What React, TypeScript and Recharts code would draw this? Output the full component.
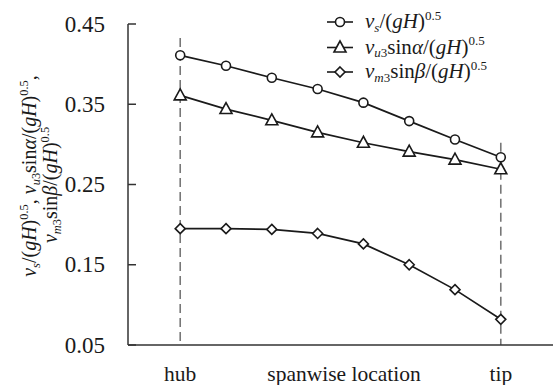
import React from "react";
import { LineChart, Line, XAxis, YAxis, ReferenceLine } from "recharts";

// spanwise stations, hub (0) to tip (7)
const stations = [0, 1, 2, 3, 4, 5, 6, 7];
const vsRatio = [0.411, 0.398, 0.383, 0.369, 0.352, 0.329, 0.306, 0.284];
const vuRatio = [0.361, 0.344, 0.330, 0.315, 0.302, 0.291, 0.281, 0.269];
const vmRatio = [0.195, 0.195, 0.194, 0.189, 0.176, 0.150, 0.119, 0.082];

const yTicks = [0.05, 0.15, 0.25, 0.35, 0.45];
const xTicks = [0, 7];
const xTickLabels = ["hub", "tip"];

const data = stations.map((x, i) => ({
  x,
  vs: vsRatio[i],
  vu: vuRatio[i],
  vm: vmRatio[i],
}));

const FONT = '"Liberation Serif", "Times New Roman", Times, "DejaVu Serif", serif';
const INK = "#1a1a1a";
const serif = { fontFamily: FONT };

type Part = { t: string; i?: boolean; sub?: boolean; sup?: boolean };

// tspans for a small math expression, sub/sup scaled down
function Expr({ parts, size }: { parts: Part[]; size: number }) {
  let shift = 0;
  return (
    <>
      {parts.map((p, k) => {
        const target = p.sub ? size * 0.18 : p.sup ? -size * 0.4 : 0;
        const dy = target - shift;
        shift = target;
        return (
          <tspan
            key={k}
            dy={dy}
            fontStyle={p.i ? "italic" : "normal"}
            fontSize={p.sub || p.sup ? size * 0.62 : size}
          >
            {p.t}
          </tspan>
        );
      })}
    </>
  );
}

const vsExpr: Part[] = [
  { t: "v", i: true },
  { t: "s", i: true, sub: true },
  { t: "/(" },
  { t: "gH", i: true },
  { t: ")" },
  { t: "0.5", sup: true },
];
const vuExpr: Part[] = [
  { t: "v", i: true },
  { t: "u", i: true, sub: true },
  { t: "3", sub: true },
  { t: "sin" },
  { t: "α", i: true },
  { t: "/(" },
  { t: "gH", i: true },
  { t: ")" },
  { t: "0.5", sup: true },
];
const vmExpr: Part[] = [
  { t: "v", i: true },
  { t: "m", i: true, sub: true },
  { t: "3", sub: true },
  { t: "sin" },
  { t: "β", i: true },
  { t: "/(" },
  { t: "gH", i: true },
  { t: ")" },
  { t: "0.5", sup: true },
];

function CircleMark({ cx, cy }: { cx: number; cy: number }) {
  return <circle cx={cx} cy={cy} r={4.5} fill="#fff" stroke={INK} strokeWidth={1.6} />;
}
function TriangleMark({ cx, cy }: { cx: number; cy: number }) {
  return (
    <polygon
      points={`${cx},${cy - 6.5} ${cx - 6},${cy + 4.5} ${cx + 6},${cy + 4.5}`}
      fill="#fff"
      stroke={INK}
      strokeWidth={1.6}
    />
  );
}
function DiamondMark({ cx, cy }: { cx: number; cy: number }) {
  return (
    <polygon
      points={`${cx},${cy - 5} ${cx + 5},${cy} ${cx},${cy + 5} ${cx - 5},${cy}`}
      fill="#fff"
      stroke={INK}
      strokeWidth={1.6}
    />
  );
}

const dot = (Mark: any) => (props: any) =>
  props.cx == null ? null : <Mark key={props.index} cx={props.cx} cy={props.cy} />;

function YTick({ x, y, payload }: any) {
  return (
    <g>
      <line x1={x} x2={x + 8} y1={y} y2={y} stroke="#333" strokeWidth={1.5} />
      <text x={x - 23} y={y + 7.5} textAnchor="end" style={serif} fontSize={23} fill={INK}>
        {payload.value.toFixed(2)}
      </text>
    </g>
  );
}

function XTick({ x, y, payload }: any) {
  const label = xTickLabels[xTicks.indexOf(payload.value)];
  return (
    <text x={x} y={y + 34} textAnchor="middle" style={serif} fontSize={21.5} fill={INK}>
      {label}
    </text>
  );
}

function LegendRow({ y, Mark, parts }: { y: number; Mark: any; parts: Part[] }) {
  return (
    <g>
      <line x1={327} x2={353} y1={y} y2={y} stroke={INK} strokeWidth={1.6} />
      <Mark cx={340} cy={y} />
      <text x={365} y={y + 6} style={serif} fill={INK}>
        <Expr parts={parts} size={21} />
      </text>
    </g>
  );
}

export default function App() {
  return (
    <div style={{ position: "absolute", left: 0, top: 0, width: 553, height: 385, background: "#fff", fontFamily: FONT }}>
      <LineChart
        width={553}
        height={385}
        data={data}
        margin={{ top: 24, right: 0, bottom: 0, left: 68 }}
      >
        <XAxis
          dataKey="x"
          type="number"
          domain={[-1.14, 8.14]}
          ticks={xTicks}
          tick={<XTick />}
          tickLine={false}
          tickSize={0}
          height={40}
          stroke="#333"
          strokeWidth={1.5}
          allowDataOverflow
        />
        <YAxis
          type="number"
          domain={[0.05, 0.45]}
          ticks={yTicks}
          tick={<YTick />}
          tickLine={false}
          tickSize={0}
          tickMargin={0}
          width={60}
          stroke="#333"
          strokeWidth={1.5}
          allowDataOverflow
        />
        <ReferenceLine
          segment={[{ x: 0, y: 0.4325 }, { x: 0, y: 0.05 }]}
          stroke="#777"
          strokeWidth={1.6}
          strokeDasharray="9 5"
        />
        <ReferenceLine
          segment={[{ x: 7, y: 0.302 }, { x: 7, y: 0.05 }]}
          stroke="#777"
          strokeWidth={1.6}
          strokeDasharray="9 5"
        />
        <Line dataKey="vs" stroke={INK} strokeWidth={1.7} dot={dot(CircleMark)} isAnimationActive={false} />
        <Line dataKey="vu" stroke={INK} strokeWidth={1.7} dot={dot(TriangleMark)} isAnimationActive={false} />
        <Line dataKey="vm" stroke={INK} strokeWidth={1.7} dot={dot(DiamondMark)} isAnimationActive={false} />
      </LineChart>
      <svg
        width={553}
        height={385}
        style={{ position: "absolute", left: 0, top: 0, pointerEvents: "none" }}
      >
        <LegendRow y={22} Mark={CircleMark} parts={vsExpr} />
        <LegendRow y={47.5} Mark={TriangleMark} parts={vuExpr} />
        <LegendRow y={72} Mark={DiamondMark} parts={vmExpr} />
        <text x={344} y={381} textAnchor="middle" style={serif} fontSize={21.5} fill={INK}>
          spanwise location
        </text>
        <text transform="translate(36,176) rotate(-90)" textAnchor="middle" style={serif} fill={INK}>
          <Expr parts={[...vsExpr, { t: ", " }, ...vuExpr, { t: "," }]} size={20} />
        </text>
        <text transform="translate(57,185) rotate(-90)" textAnchor="middle" style={serif} fill={INK}>
          <Expr parts={vmExpr} size={20} />
        </text>
      </svg>
    </div>
  );
}
